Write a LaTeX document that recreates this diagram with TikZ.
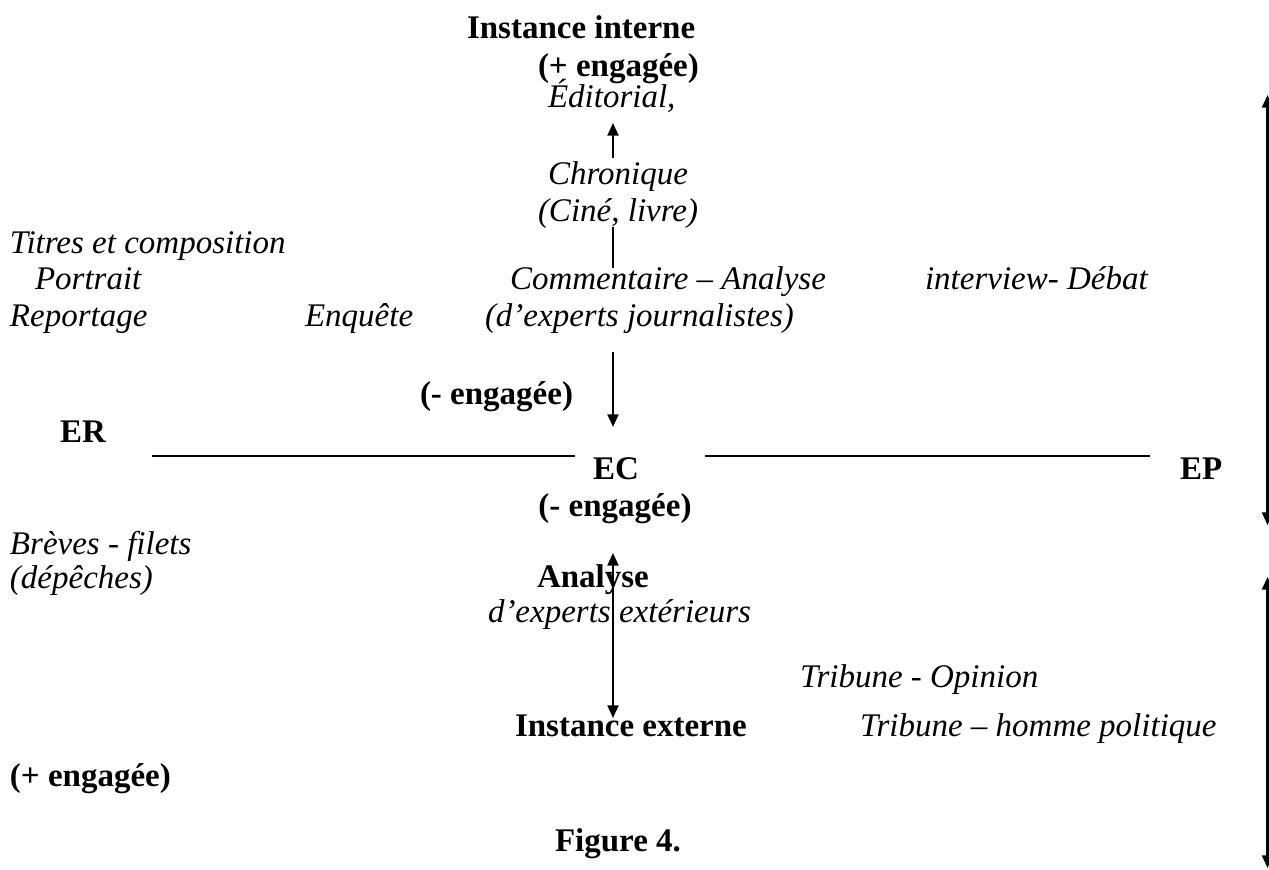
\documentclass[tikz,border=0pt]{standalone}
\usepackage{fontspec}
\setmainfont{Liberation Serif}
\usetikzlibrary{arrows.meta}
\begin{document}
\begin{tikzpicture}[x=0.3636pt, y=-0.3636pt,
  every node/.style={inner sep=0pt, outer sep=0pt, font=\fontsize{12pt}{14pt}\selectfont},
  lbl/.style={anchor=base west},
  clbl/.style={anchor=base},
  bd/.style={font=\fontsize{12pt}{14pt}\selectfont\bfseries},
  it/.style={font=\fontsize{12pt}{14pt}\selectfont\itshape},
  ln/.style={line width=0.75pt},
  arr/.style={line width=0.75pt, -{Triangle[length=4.6pt,width=4pt]}},
  darr/.style={line width=0.75pt, {Triangle[length=4.6pt,width=4pt]}-{Triangle[length=4.6pt,width=4pt]}}]
\useasboundingbox (0,0) rectangle (1269,870);

% top centre column
\node[lbl,bd] (ii) at (467,39) {Instance interne};
\node[lbl,bd] (peng) at (538,77) {(+ engagée)};
\node[lbl,it] (edit) at (548,108) {Éditorial,};
\node[lbl,it] (chron) at (548,185) {Chronique};
\node[lbl,it] (cine) at (538,222) {(Ciné, livre)};

% left block
\node[lbl,it] (titres) at (10,254) {Titres et composition};
\node[lbl,it] (portrait) at (35,290) {Portrait};
\node[lbl,it] (reportage) at (10,327) {Reportage};
\node[lbl,it] (enquete) at (305,327) {Enquête};
\node[lbl,it] (comment) at (510,290) {Commentaire – Analyse};
\node[lbl,it] (djourn) at (485,327) {(d’experts journalistes)};
\node[lbl,it] (interview) at (925,290) {interview- Débat};

\node[lbl,bd] (meng1) at (420,405) {(- engagée)};
\node[lbl,bd] (er) at (60,443) {ER};
\node[clbl,bd] (ec) at (616,480) {EC};
\node[clbl,bd] (meng2) at (615,517) {(- engagée)};
\node[lbl,bd] (ep) at (1180,480) {EP};

\node[lbl,it] (breves) at (10,555) {Brèves - filets};
\node[lbl,it] (depeches) at (10,589) {(dépêches)};
\node[lbl,bd] (analyse) at (537,588) {Analyse};
\node[lbl,it] (dext) at (488,623) {d’experts extérieurs};
\node[lbl,it] (tribop) at (800,688) {Tribune - Opinion};
\node[lbl,bd] (iext) at (515,737) {Instance externe};
\node[lbl,it] (tribhp) at (860,737) {Tribune – homme politique};
\node[lbl,bd] (peng2) at (10,787) {(+ engagée)};
\node[lbl,bd] (fig) at (555,852) {Figure 4.};

% vertical connectors
\coordinate (a1s) at (613,158); \coordinate (a1e) at (613,123);
\coordinate (l1s) at (613,227); \coordinate (l1e) at (613,268);
\coordinate (a2s) at (613,352); \coordinate (a2e) at (613,427);
\coordinate (a3s) at (613,553); \coordinate (a3e) at (613,718);
\draw[arr] (a1s) -- (a1e);
\draw[ln] (l1s) -- (l1e);
\draw[arr] (a2s) -- (a2e);
\draw[darr] (a3s) -- (a3e);

% horizontal axis
\coordinate (h1s) at (152,456); \coordinate (h1e) at (575,456);
\coordinate (h2s) at (705,456); \coordinate (h2e) at (1150,456);
\draw[ln] (h1s) -- (h1e);
\draw[ln] (h2s) -- (h2e);

% right-hand arrows
\coordinate (r1s) at (1267.5,95); \coordinate (r1e) at (1267.5,525);
\coordinate (r2s) at (1267.5,577); \coordinate (r2e) at (1267.5,868);
\draw[darr] (r1s) -- (r1e);
\draw[darr] (r2s) -- (r2e);
\end{tikzpicture}
\end{document}
